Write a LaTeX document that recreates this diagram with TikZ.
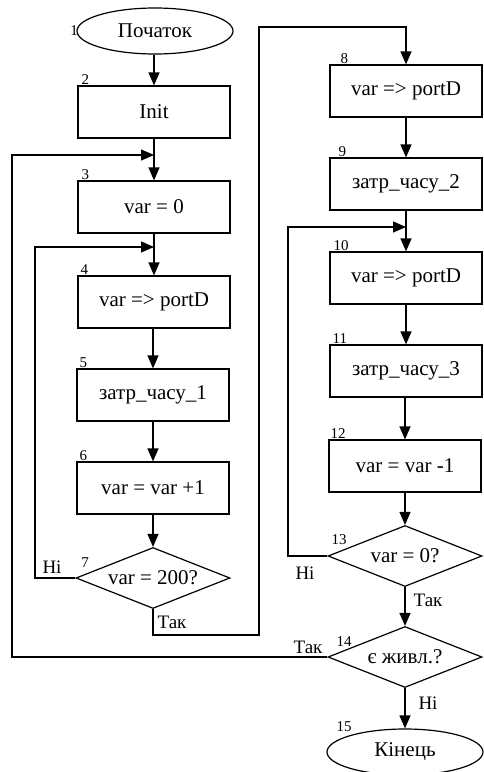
\documentclass[tikz,border=0pt]{standalone}
\usepackage{fontspec}
\setmainfont{Liberation Serif}
\usetikzlibrary{shapes.geometric,arrows.meta}

\tikzset{
  base/.style={draw, line width=1.2pt, inner sep=0pt, font=\fontsize{21}{24}\selectfont},
  proc/.style={base, rectangle, minimum width=152pt, minimum height=52pt},
  term/.style={base, ellipse, minimum width=156pt, minimum height=46pt},
  decide/.style={base, diamond, aspect=2.6, minimum width=154pt, minimum height=61pt},
  num/.style={font=\fontsize{15}{17}\selectfont, inner sep=1pt},
  ans/.style={font=\fontsize{19}{21}\selectfont, inner sep=0pt},
  line/.style={line width=1.2pt},
  arr/.style={line, -{Triangle[length=13pt,width=11pt]}}
}

\begin{document}
\begin{tikzpicture}[x=1pt,y=-1pt]
\useasboundingbox (0,0) rectangle (483,772);

% left column
\node[term]   (n1)  at (155,31)  {Початок};
\node[proc]   (n2)  at (154,112) {Init};
\node[proc]   (n3)  at (154,207) {var = 0};
\node[proc]   (n4)  at (154,302) {var => portD};
\node[proc]   (n5)  at (153,395) {затр\_часу\_1};
\node[proc]   (n6)  at (153,488) {var = var +1};
\node[decide] (n7)  at (153,578) {var = 200?};

% right column
\node[proc]   (n8)  at (406,91)  {var => portD};
\node[proc]   (n9)  at (406,184) {затр\_часу\_2};
\node[proc]   (n10) at (406,278) {var => portD};
\node[proc]   (n11) at (406,371) {затр\_часу\_3};
\node[proc]   (n12) at (405,466) {var = var -1};
\node[decide] (n13) at (405,556) {var = 0?};
\node[decide] (n14) at (405,657) {є живл.?};
\node[term]   (n15) at (405,752) {Кінець};

% block numbers
\node[num] (l1) at (74,31) {1};
\node[num, anchor=south west] (l2)  at ([xshift=3pt]n2.north west)  {2};
\node[num, anchor=south west] (l3)  at ([xshift=3pt]n3.north west)  {3};
\node[num, anchor=south west] (l4)  at ([xshift=2pt]n4.north west)  {4};
\node[num, anchor=south west] (l5)  at ([xshift=2pt]n5.north west)  {5};
\node[num, anchor=south west] (l6)  at ([xshift=2pt]n6.north west)  {6};
\node[num] (l7) at (85,563) {7};
\node[num, anchor=south west] (l8)  at ([xshift=10pt]n8.north west) {8};
\node[num, anchor=south west] (l9)  at ([xshift=8pt]n9.north west)  {9};
\node[num, anchor=south west] (l10) at ([xshift=3pt]n10.north west) {10};
\node[num, anchor=south west] (l11) at ([xshift=2pt]n11.north west) {11};
\node[num, anchor=south west] (l12) at ([xshift=1pt]n12.north west) {12};
\node[num] (l13) at (339,540) {13};
\node[num] (l14) at (344,642) {14};
\node[num] (l15) at (344,727) {15};

% junction points of the loops
\coordinate (j3)  at (154,155);
\coordinate (j4)  at (154,247);
\coordinate (j8)  at (406,27);
\coordinate (j10) at (406,227);

% straight flow
\draw[arr] (n1.south -| n2.north) -- (n2.north);
\draw[arr] (n2) -- (n3);
\draw[arr] (n3) -- (n4);
\draw[arr] (n4.south -| n5.north) -- (n5.north);
\draw[arr] (n5) -- (n6);
\draw[arr] (n6) -- (n7);
\draw[arr] (n8) -- (n9);
\draw[arr] (n9) -- (n10);
\draw[arr] (n10) -- (n11);
\draw[arr] (n11.south -| n12.north) -- (n12.north);
\draw[arr] (n12) -- (n13);
\draw[arr] (n13) -- (n14);
\draw[arr] (n14) -- (n15);

% loops and jumps
\draw[arr] (n7.west) -- (35,578) -- (35,247) -- (j4);
\draw[arr] (n14.west) -- (12,657) -- (12,155) -- (j3);
\draw[arr] (n7.south) -- (153,635) -- (259,635) -- (259,27) -- (j8) -- (n8.north);
\draw[arr] (n13.west) -- (288,556) -- (288,227) -- (j10);

% branch labels
\node[ans] (a7n)  at (52,567)  {Ні};
\node[ans] (a7y)  at (172,622) {Так};
\node[ans] (a13n) at (305,573) {Ні};
\node[ans] (a13y) at (428,600) {Так};
\node[ans] (a14y) at (308,647) {Так};
\node[ans] (a14n) at (428,703) {Ні};
\end{tikzpicture}
\end{document}
